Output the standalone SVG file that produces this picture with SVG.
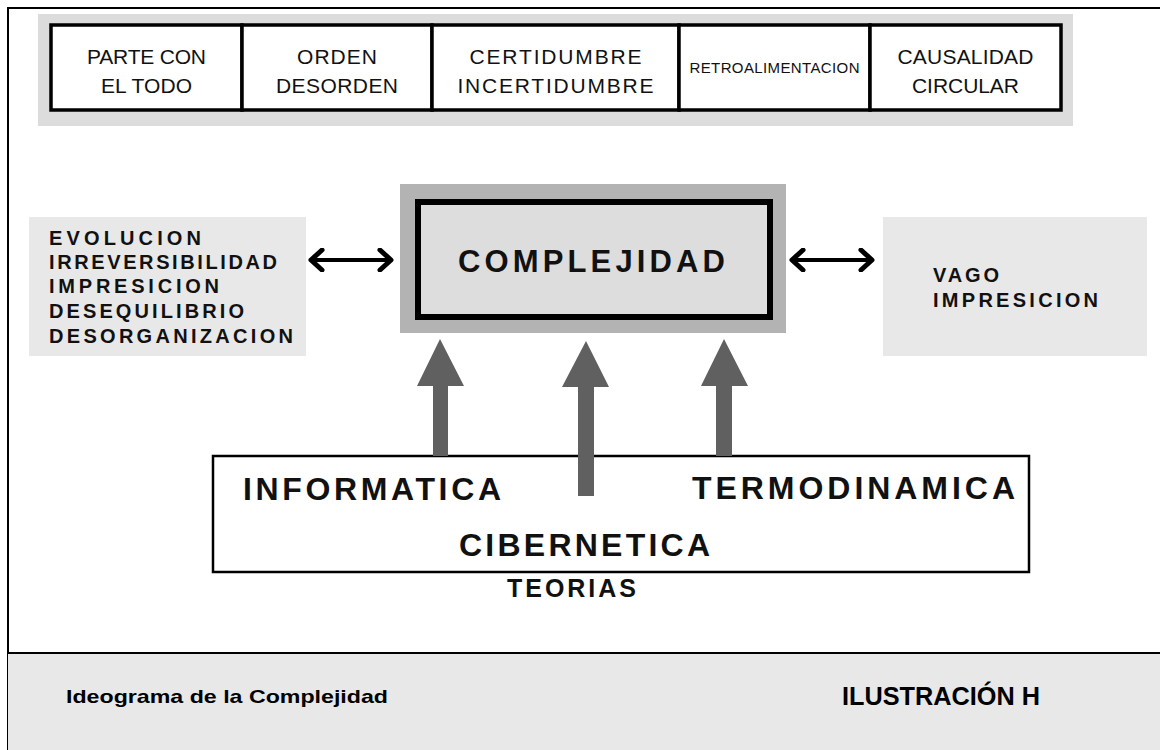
<svg xmlns="http://www.w3.org/2000/svg" width="1160" height="750" viewBox="0 0 1160 750">
<defs>
<style>
.band{fill:#dcdcdc}
.tbox{fill:#ffffff;stroke:#000;stroke-width:3.5}
.tt{font-family:"Liberation Sans",Arial,sans-serif;font-size:21px;fill:#111;text-anchor:middle}
.side{fill:#e8e8e8}
.bt{font-family:"Liberation Sans",Arial,sans-serif;font-weight:bold;fill:#111}
.conn{stroke:#000;stroke-width:4;fill:none}
.up{fill:#606060}
.ft{font-family:"Liberation Sans",Arial,sans-serif;font-weight:bold;fill:#000}
</style>
<marker id="chev" viewBox="0 0 20 24" refX="16" refY="12" markerWidth="20" markerHeight="24" markerUnits="userSpaceOnUse" orient="auto-start-reverse">
<polyline points="5,2 16,12 5,22" fill="none" stroke="#000" stroke-width="5" stroke-linecap="round" stroke-linejoin="round"/>
</marker>
</defs>
<rect x="0" y="0" width="1160" height="750" fill="#ffffff"/>
<g id="frame">
<path d="M1160,8 L8,8 L8,750" fill="none" stroke="#000" stroke-width="2"/>
<rect x="8" y="653" width="1152" height="97" fill="#e8e8e8"/>
<line x1="8" y1="653" x2="1160" y2="653" stroke="#000" stroke-width="2"/>
</g>
<g id="top-band"><rect class="band" x="38" y="14" width="1035" height="112"/></g>
<g id="box-parte">
<rect class="tbox" x="51" y="25" width="191" height="85"/>
<text class="tt" x="146.5" y="64" textLength="119" lengthAdjust="spacing">PARTE CON</text>
<text class="tt" x="146.5" y="93" textLength="91" lengthAdjust="spacing">EL TODO</text>
</g>
<g id="box-orden">
<rect class="tbox" x="242" y="25" width="190" height="85"/>
<text class="tt" x="337" y="64" textLength="80" lengthAdjust="spacing">ORDEN</text>
<text class="tt" x="337" y="93" textLength="122" lengthAdjust="spacing">DESORDEN</text>
</g>
<g id="box-certidumbre">
<rect class="tbox" x="432" y="25" width="247" height="85"/>
<text class="tt" x="555.5" y="64" textLength="172" lengthAdjust="spacing">CERTIDUMBRE</text>
<text class="tt" x="555.5" y="93" textLength="196" lengthAdjust="spacing">INCERTIDUMBRE</text>
</g>
<g id="box-retro">
<rect class="tbox" x="679" y="25" width="191" height="85"/>
<text class="tt" x="774.5" y="73" style="font-size:15px" textLength="170" lengthAdjust="spacing">RETROALIMENTACION</text>
</g>
<g id="box-causalidad">
<rect class="tbox" x="870" y="25" width="191" height="85"/>
<text class="tt" x="965.5" y="64" textLength="136" lengthAdjust="spacing">CAUSALIDAD</text>
<text class="tt" x="965.5" y="93" textLength="107" lengthAdjust="spacing">CIRCULAR</text>
</g>
<g id="left-box">
<rect class="side" x="29" y="217" width="277" height="139"/>
<text class="bt" style="font-size:20px" x="49" y="245" textLength="152" lengthAdjust="spacing">EVOLUCION</text>
<text class="bt" style="font-size:20px" x="49" y="269" textLength="228" lengthAdjust="spacing">IRREVERSIBILIDAD</text>
<text class="bt" style="font-size:20px" x="49" y="293" textLength="170" lengthAdjust="spacing">IMPRESICION</text>
<text class="bt" style="font-size:20px" x="49" y="318" textLength="195" lengthAdjust="spacing">DESEQUILIBRIO</text>
<text class="bt" style="font-size:20px" x="49" y="343" textLength="244" lengthAdjust="spacing">DESORGANIZACION</text>
</g>
<g id="complejidad">
<rect x="400" y="184" width="386" height="149" fill="#b3b3b3"/>
<rect x="418" y="202" width="352" height="115" fill="#dddddd" stroke="#000" stroke-width="6"/>
<text class="bt" style="font-size:31px" x="458" y="272" textLength="267" lengthAdjust="spacing">COMPLEJIDAD</text>
</g>
<g id="right-box">
<rect class="side" x="883" y="217" width="264" height="139"/>
<text class="bt" style="font-size:20px" x="933" y="282" textLength="66" lengthAdjust="spacing">VAGO</text>
<text class="bt" style="font-size:20px" x="933" y="307" textLength="165" lengthAdjust="spacing">IMPRESICION</text>
</g>
<g id="teorias">
<rect x="213" y="456" width="816" height="116" fill="#ffffff" stroke="#000" stroke-width="2.5"/>
<text class="bt" style="font-size:32px" x="243" y="500" textLength="258" lengthAdjust="spacing">INFORMATICA</text>
<text class="bt" style="font-size:32px" x="692" y="499" textLength="323" lengthAdjust="spacing">TERMODINAMICA</text>
<text class="bt" style="font-size:32px" x="459" y="556" textLength="251" lengthAdjust="spacing">CIBERNETICA</text>
<text class="bt" style="font-size:25px" x="507" y="597" textLength="129" lengthAdjust="spacing">TEORIAS</text>
</g>
<g id="connectors">
<line class="conn" x1="311" y1="260" x2="391" y2="260" marker-start="url(#chev)" marker-end="url(#chev)"/>
<line class="conn" x1="792" y1="260" x2="872" y2="260" marker-start="url(#chev)" marker-end="url(#chev)"/>
<path class="up" d="M440,339 L464,386 L448,386 L448,456 L433,456 L433,386 L417,386 Z"/>
<path class="up" d="M586,341 L609,387 L594,387 L594,496 L578,496 L578,387 L562,387 Z"/>
<path class="up" d="M724,339 L748,386 L732,386 L732,456 L716,456 L716,386 L701,386 Z"/>
</g>
<g id="footer">
<text class="ft" style="font-size:19px" x="66" y="703" textLength="322" lengthAdjust="spacingAndGlyphs">Ideograma  de la Complejidad</text>
<text class="ft" style="font-size:25px" x="842" y="705" textLength="198" lengthAdjust="spacingAndGlyphs">ILUSTRACIÓN  H</text>
</g>
</svg>
